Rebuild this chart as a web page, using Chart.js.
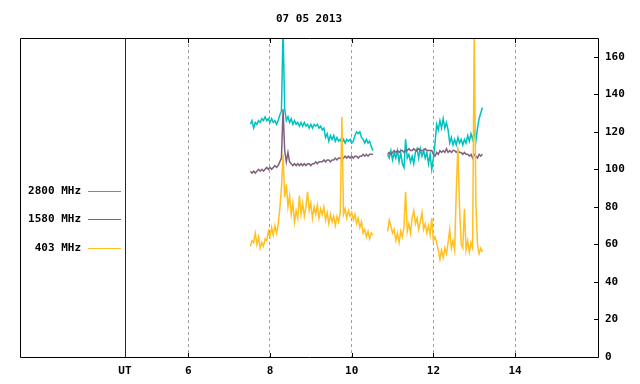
<!DOCTYPE html>
<html>
<head>
<meta charset="utf-8">
<title>07 05 2013</title>
<script src="https://cdn.jsdelivr.net/npm/chart.js@4.4.1/dist/chart.umd.min.js"></script>
<style>
  html, body { margin: 0; padding: 0; background: #fff; }
  canvas { display: block; }
</style>
</head>
<body>
<canvas id="chart" width="640" height="384"></canvas>
<script>
// Radio flux (SFU) vs UT hours
const title = "07 05 2013";

const xTickValues = [4.45, 6, 8, 10, 12, 14];
const xTickLabels = ["UT", "6", "8", "10", "12", "14"];
const yTickValues = [0, 20, 40, 60, 80, 100, 120, 140, 160];

// first run of samples
const timesA = [7.52, 7.56, 7.60, 7.64, 7.68, 7.72, 7.76, 7.80, 7.84, 7.88,
  7.92, 7.96, 8.00, 8.04, 8.08, 8.12, 8.16, 8.20, 8.24, 8.28,
  8.32, 8.36, 8.40, 8.44, 8.48, 8.52, 8.56, 8.60, 8.64, 8.68,
  8.72, 8.76, 8.80, 8.84, 8.88, 8.92, 8.96, 9.00, 9.04, 9.08,
  9.12, 9.16, 9.20, 9.24, 9.28, 9.32, 9.36, 9.40, 9.44, 9.48,
  9.52, 9.56, 9.60, 9.64, 9.68, 9.72, 9.76, 9.80, 9.84, 9.88,
  9.92, 9.96, 10.00, 10.04, 10.08, 10.12, 10.16, 10.20, 10.24, 10.28,
  10.32, 10.36, 10.40, 10.44, 10.48, 10.52];

// second run of samples
const timesB = [10.88, 10.92, 10.96, 11.00, 11.04, 11.08, 11.12, 11.16, 11.20, 11.24,
  11.28, 11.32, 11.36, 11.40, 11.44, 11.48, 11.52, 11.56, 11.60, 11.64,
  11.68, 11.72, 11.76, 11.80, 11.84, 11.88, 11.92, 11.96, 12.00, 12.04,
  12.08, 12.12, 12.16, 12.20, 12.24, 12.28, 12.32, 12.36, 12.40, 12.44,
  12.48, 12.52, 12.56, 12.60, 12.64, 12.68, 12.72, 12.76, 12.80, 12.84,
  12.88, 12.92, 12.96, 13.00, 13.04, 13.08, 13.12, 13.16, 13.20];

const flux2800A = [124, 126, 122, 125, 124, 126, 125, 127, 126, 128,
  126, 127, 125, 127, 125, 126, 124, 126, 129, 131,
  175, 132, 126, 128, 125, 127, 124, 126, 124, 125,
  123, 125, 123, 125, 123, 124, 122, 124, 122, 124,
  123, 124, 122, 123, 121, 122, 117, 119, 115, 118,
  116, 118, 115, 117, 115, 116, 114, 116, 114, 116,
  115, 116, 114, 115, 118, 120, 119, 120, 117, 116,
  114, 116, 114, 115, 112, 110];
const flux2800B = [108, 106, 110, 105, 109, 106, 110, 104, 109, 103,
  101, 116, 106, 108, 104, 107, 103, 109, 111, 106,
  111, 107, 110, 106, 109, 103, 108, 100, 106, 114,
  124, 121, 126, 122, 127, 122, 125, 121, 114, 117,
  113, 116, 113, 117, 114, 116, 113, 116, 114, 118,
  115, 119, 116, 120, 115, 122, 127, 130, 133];

const flux1580A = [99, 98, 99, 98, 99, 100, 99, 100, 99, 100,
  101, 100, 101, 100, 101, 102, 101, 102, 104, 106,
  132, 110, 104, 109, 104, 103, 102, 103, 102, 103,
  102, 103, 102, 103, 102, 103, 103, 102, 103, 103,
  104, 103, 104, 104, 104, 105, 104, 105, 105, 104,
  105, 105, 106, 105, 106, 106, 105, 106, 107, 106,
  107, 106, 107, 106, 107, 107, 106, 107, 107, 108,
  107, 108, 107, 108, 108, 108];
const flux1580B = [108, 109, 108, 109, 110, 109, 110, 109, 110, 110,
  109, 110, 110, 111, 110, 110, 111, 110, 110, 111,
  110, 110, 110, 111, 110, 110, 110, 110, 108, 107,
  109, 108, 110, 109, 110, 109, 111, 109, 110, 109,
  110, 110, 109, 110, 109, 109, 108, 109, 108, 108,
  107, 108, 106, 108, 107, 106, 108, 107, 108];

const flux403A = [59, 62, 61, 66, 60, 64, 58, 61, 59, 63,
  62, 67, 64, 69, 65, 70, 66, 71, 79, 90,
  108, 85, 92, 80, 86, 76, 82, 72, 78, 74,
  86, 76, 82, 75, 80, 88, 78, 82, 74, 80,
  76, 81, 74, 79, 76, 80, 73, 77, 71, 76,
  72, 75, 70, 75, 72, 77, 128, 76, 79, 74,
  78, 75, 77, 73, 76, 71, 74, 69, 72, 66,
  68, 64, 67, 63, 66, 65];
const flux403B = [67, 73, 70, 66, 68, 62, 66, 61, 67, 64,
  69, 88, 67, 71, 66, 74, 78, 71, 74, 68,
  72, 77, 68, 71, 66, 70, 65, 74, 62, 64,
  61, 57, 52, 57, 53, 58, 55, 61, 68, 58,
  62, 57, 88, 112, 80, 60, 58, 79, 57, 62,
  56, 61, 58, 175, 82, 60, 55, 58, 56];

const seriesNames = ["2800 MHz", "1580 MHz", "403 MHz"];
const seriesColors = ["#00c0c0", "#7f607f", "#ffc020"];

const X_MIN = 1.88, X_MAX = 16.03;
const GAP_TIME = 10.70;

function joinRuns(a, b) {
  const pts = timesA.map((t, i) => ({ x: t, y: a[i] }));
  pts.push({ x: GAP_TIME, y: null });
  timesB.forEach((t, i) => pts.push({ x: t, y: b[i] }));
  return pts;
}

Chart.defaults.font.family = "'DejaVu Sans Mono', monospace";
Chart.defaults.font.size = 11;
Chart.defaults.font.weight = "bold";
Chart.defaults.color = "#000";

// frame, inward ticks, UT marker, legend and title (gnuplot look)
const decorations = {
  id: "decorations",
  beforeDatasetsDraw(chart) {
    const { ctx, chartArea: a, scales: { x } } = chart;
    const px = Math.round(x.getPixelForValue(xTickValues[0])) + 0.5;
    ctx.save();
    ctx.strokeStyle = "#800000";
    ctx.lineWidth = 1;
    ctx.beginPath();
    ctx.moveTo(px, a.top);
    ctx.lineTo(px, a.bottom);
    ctx.stroke();
    ctx.restore();
  },
  afterDraw(chart) {
    const { ctx, chartArea: a, scales: { x, y } } = chart;
    ctx.save();
    ctx.strokeStyle = "#000";
    ctx.lineWidth = 1;
    ctx.beginPath();
    ctx.rect(a.left + 0.5, a.top + 0.5, a.right - a.left, a.bottom - a.top);
    // x ticks, bottom and top, pointing inward
    xTickValues.slice(1).forEach(v => {
      const p = Math.round(x.getPixelForValue(v)) + 0.5;
      ctx.moveTo(p, a.bottom + 0.5); ctx.lineTo(p, a.bottom - 4);
      ctx.moveTo(p, a.top + 0.5); ctx.lineTo(p, a.top + 5);
    });
    // y ticks on the right border
    yTickValues.forEach(v => {
      const p = Math.round(y.getPixelForValue(v)) + 0.5;
      ctx.moveTo(a.right + 0.5, p); ctx.lineTo(a.right - 4, p);
    });
    ctx.stroke();

    // title
    ctx.fillStyle = "#000";
    ctx.font = "bold 11px 'DejaVu Sans Mono', monospace";
    ctx.textAlign = "center";
    ctx.textBaseline = "middle";
    ctx.fillText(title, (a.left + a.right) / 2, 19);

    // legend
    const rows = [191, 219, 248];
    ctx.textAlign = "right";
    seriesNames.forEach((name, i) => {
      ctx.fillStyle = "#000";
      ctx.fillText(name, 81, rows[i]);
      ctx.strokeStyle = seriesColors[i];
      ctx.beginPath();
      ctx.moveTo(88, rows[i] + 0.5);
      ctx.lineTo(121, rows[i] + 0.5);
      ctx.stroke();
    });
    ctx.restore();
  }
};

const datasets = [
  { label: seriesNames[0], data: joinRuns(flux2800A, flux2800B), borderColor: seriesColors[0], order: 2 },
  { label: seriesNames[1], data: joinRuns(flux1580A, flux1580B), borderColor: seriesColors[1], order: 1 },
  { label: seriesNames[2], data: joinRuns(flux403A, flux403B), borderColor: seriesColors[2], order: 0 }
].map(d => Object.assign(d, {
  borderWidth: 1.5, pointRadius: 0, tension: 0, spanGaps: false, fill: false
}));

new Chart(document.getElementById("chart"), {
  type: "line",
  data: { datasets },
  options: {
    responsive: false,
    animation: false,
    layout: { padding: { left: 20, top: 38, right: 0, bottom: 0 } },
    plugins: { legend: { display: false }, tooltip: { enabled: false } },
    scales: {
      x: {
        type: "linear",
        min: X_MIN,
        max: X_MAX,
        afterBuildTicks: s => { s.ticks = xTickValues.map(v => ({ value: v })); },
        afterFit: s => { s.height = 27; },
        ticks: {
          autoSkip: false, maxRotation: 0, padding: 8,
          callback: (v, i) => xTickLabels[i]
        },
        grid: {
          drawTicks: false,
          color: c => (c.tick && c.tick.value === xTickValues[0]) ? "rgba(0,0,0,0)" : "#a0a0a0",
          lineWidth: 1
        },
        border: { display: false, dash: [3, 3] }
      },
      y: {
        position: "right",
        min: 0,
        max: 170,
        afterBuildTicks: s => { s.ticks = yTickValues.map(v => ({ value: v })); },
        afterFit: s => { s.width = 42; },
        ticks: { padding: 7 },
        grid: { display: false, drawTicks: false },
        border: { display: false }
      }
    }
  },
  plugins: [decorations]
});
</script>
</body>
</html>
